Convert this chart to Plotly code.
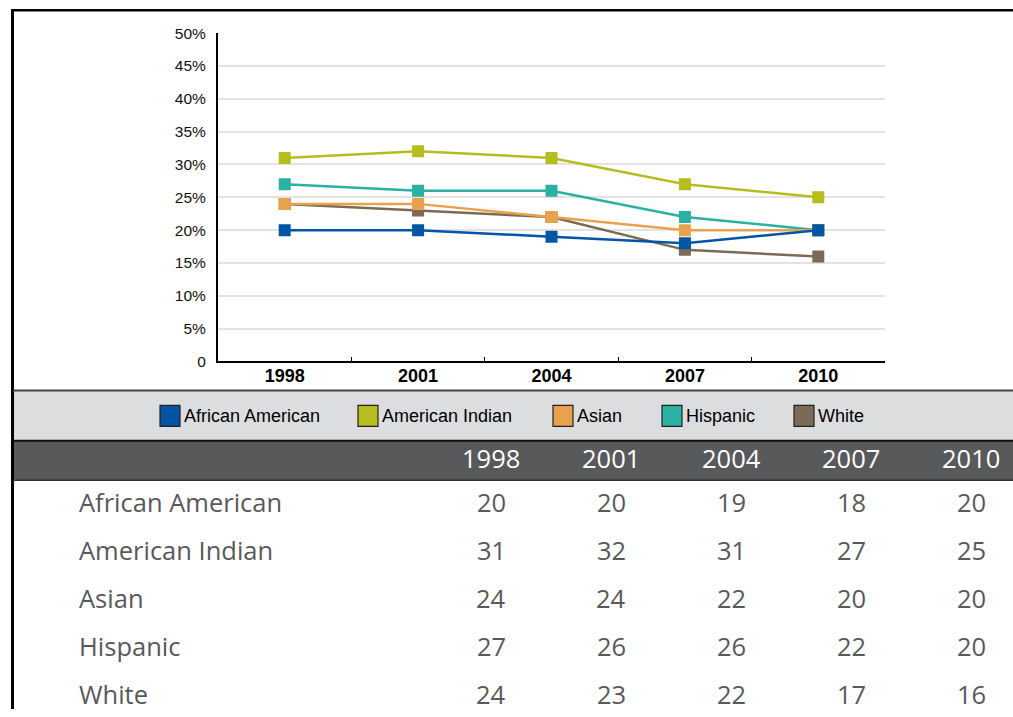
import plotly.graph_objects as go

# ---------------- data ----------------
years = ["1998", "2001", "2004", "2007", "2010"]
series_names = ["African American", "American Indian", "Asian", "Hispanic", "White"]
african_american = [20, 20, 19, 18, 20]
american_indian = [31, 32, 31, 27, 25]
asian = [24, 24, 22, 20, 20]
hispanic = [27, 26, 26, 22, 20]
white = [24, 23, 22, 17, 16]
y_tick_values = [0, 5, 10, 15, 20, 25, 30, 35, 40, 45, 50]
y_tick_labels = ["0", "5%", "10%", "15%", "20%", "25%", "30%", "35%", "40%", "45%", "50%"]

series_values = [african_american, american_indian, asian, hispanic, white]
colors = ["#0055a5", "#b5bd1f", "#e8a24e", "#2bb0a4", "#7b6a55"]

W, H = 1013, 717
PAD = 8  # vertical page padding seen in the photographed page


def px(x):
    return x / W


def py(y):
    # map a target picture row to the figure's paper coordinate
    fy = y * (H + 2 * PAD) / H - PAD
    return 1 - fy / H


CHART_FONT = "Liberation Sans, Arial, sans-serif"
TABLE_FONT = "Open Sans, Noto Sans, sans-serif"

fig = go.Figure()
# draw last series first so that African American ends up on top
for name, vals, col in reversed(list(zip(series_names, series_values, colors))):
    fig.add_trace(go.Scatter(
        x=years, y=vals, name=name, mode="lines+markers",
        line=dict(color=col, width=2.5),
        marker=dict(symbol="square", size=12, color=col),
        showlegend=False,
    ))

fig.update_layout(
    width=W, height=H,
    margin=dict(l=0, r=0, t=0, b=0),
    paper_bgcolor="white", plot_bgcolor="white",
    xaxis=dict(
        domain=[px(218), px(885)], type="category", range=[-0.5, 4.5],
        showline=True, linecolor="black", linewidth=2,
        ticks="inside", tickson="boundaries", ticklen=4, tickcolor="black", tickwidth=1,
        showgrid=False, zeroline=False, ticklabelstandoff=-3,
        tickfont=dict(family=CHART_FONT, size=18, color="black", weight="bold"),
    ),
    yaxis=dict(
        domain=[py(361), py(32)], range=[0, 50],
        tickvals=y_tick_values, ticktext=y_tick_labels,
        showline=True, linecolor="black", linewidth=2,
        showgrid=True, gridcolor="#e3e3e3", gridwidth=2,
        zeroline=False, ticks="", ticklabelstandoff=7,
        tickfont=dict(family=CHART_FONT, size=15.5, color="#111"),
    ),
)

shapes = []
# outer border
shapes.append(dict(type="line", xref="paper", yref="paper", x0=px(11), x1=1, y0=1 - 1.3 / H, y1=1 - 1.3 / H,
                   line=dict(color="black", width=2.6)))
shapes.append(dict(type="line", xref="paper", yref="paper", x0=px(12.5), x1=px(12.5), y0=1, y1=0,
                   line=dict(color="black", width=3)))
# legend band
shapes.append(dict(type="rect", xref="paper", yref="paper", x0=px(14), x1=1, y0=py(440), y1=py(390),
                   fillcolor="#dcdddf", line=dict(width=0), layer="below"))
shapes.append(dict(type="line", xref="paper", yref="paper", x0=px(13), x1=1, y0=py(390), y1=py(390),
                   line=dict(color="#444", width=2)))
# header band
shapes.append(dict(type="rect", xref="paper", yref="paper", x0=px(14), x1=1, y0=py(480), y1=py(440),
                   fillcolor="#58595b", line=dict(width=0), layer="below"))
shapes.append(dict(type="line", xref="paper", yref="paper", x0=px(13), x1=1, y0=py(440.5), y1=py(440.5),
                   line=dict(color="#111", width=2)))
shapes.append(dict(type="line", xref="paper", yref="paper", x0=px(13), x1=1, y0=py(480), y1=py(480),
                   line=dict(color="#333", width=1.5)))

annotations = []
# legend
legend_x = [160, 358, 553, 662, 794]
for name, col, lx in zip(series_names, colors, legend_x):
    shapes.append(dict(type="rect", xref="paper", yref="paper", x0=px(lx), x1=px(lx + 20),
                       y0=py(426), y1=py(405), fillcolor=col, line=dict(color="#222", width=1.2)))
    annotations.append(dict(xref="paper", yref="paper", x=px(lx + 22), y=py(415.5), text=name,
                            showarrow=False, xanchor="left", yanchor="middle",
                            font=dict(family=CHART_FONT, size=18, color="black")))

# table
col_x = [491, 611, 731, 851, 971]
for yr, cx in zip(years, col_x):
    annotations.append(dict(xref="paper", yref="paper", x=px(cx), y=py(458), text=yr,
                            showarrow=False, xanchor="center", yanchor="middle",
                            font=dict(family=TABLE_FONT, size=25.5, color="white")))
for i, (name, vals) in enumerate(zip(series_names, series_values)):
    ry = 502 + 48 * i
    annotations.append(dict(xref="paper", yref="paper", x=px(77), y=py(ry), text=name,
                            showarrow=False, xanchor="left", yanchor="middle",
                            font=dict(family=TABLE_FONT, size=25.5, color="#58595b")))
    for v, cx in zip(vals, col_x):
        annotations.append(dict(xref="paper", yref="paper", x=px(cx), y=py(ry), text=str(v),
                                showarrow=False, xanchor="center", yanchor="middle",
                                font=dict(family=TABLE_FONT, size=25.5, color="#58595b")))

fig.update_layout(shapes=shapes, annotations=annotations)
post = (
    "document.body.style.margin='0px';"
    "document.body.style.overflow='hidden';"
)
fig.write_html("out.html", config={"displayModeBar": False}, post_script=post)
